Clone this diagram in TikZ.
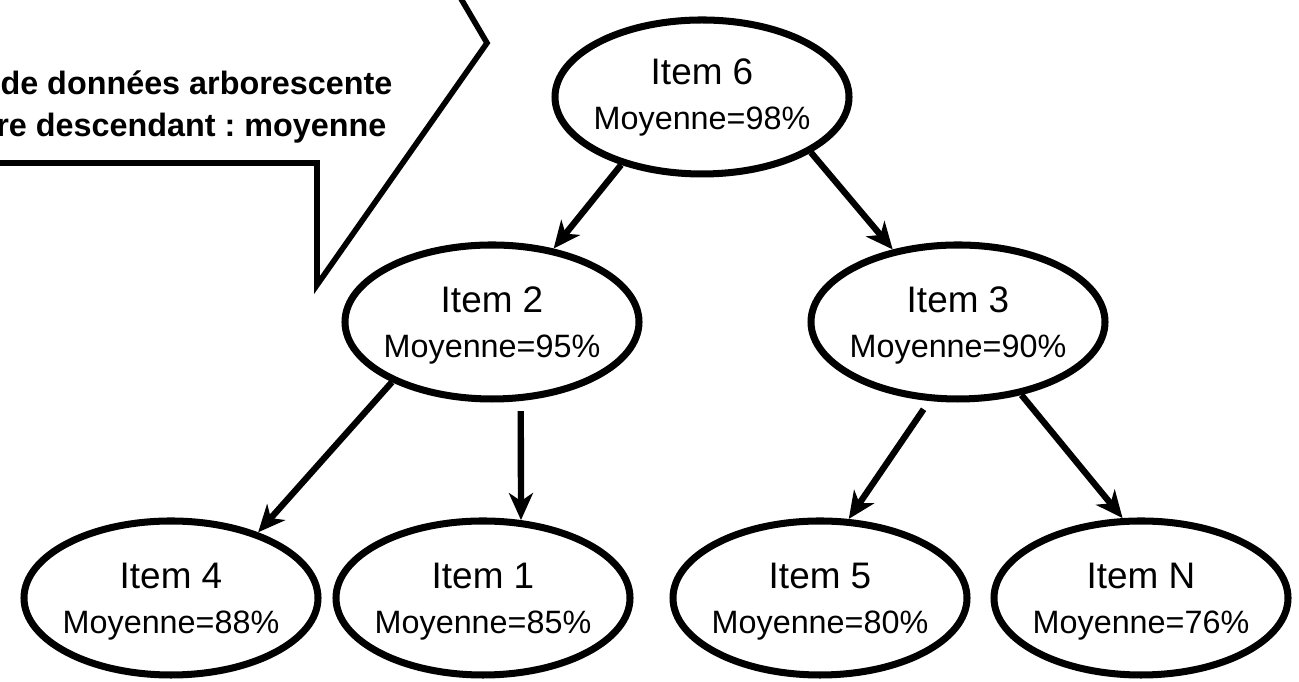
\documentclass[tikz,border=0pt]{standalone}
\usepackage{fontspec}
\setmainfont{Liberation Sans}
\usepackage{tikz}
\usetikzlibrary{shapes.geometric, arrows.meta}
\tikzstyle{item}=[ellipse, draw, line width=2pt, minimum width=29.4mm, minimum height=15.4mm, inner xsep=-2mm, inner ysep=0pt, align=center, font=\fontsize{10.5}{12.8}\selectfont]
\tikzstyle{lowtext}=[text depth=-2pt]
\tikzstyle{link}=[line width=1.8pt, -{Stealth[length=2.7mm,width=2.4mm,inset=0.8mm]}]
\tikzstyle{note}=[anchor=base east, inner sep=0pt, font=\frenchspacing\bfseries\fontsize{9.2}{11}\selectfont]
\newcommand{\moy}[1]{{\fontsize{9.2}{12.8}\selectfont Moyenne=#1\%}}

\begin{document}
\begin{tikzpicture}

		\useasboundingbox (0,0) rectangle (12.99,6.82);
		\fill[white] (0,0) rectangle (12.99,6.82);

		%draw the callout
		\draw[line width=1.6pt, line join=miter] (4.50,7.02) -- (4.87,6.39) -- (3.17,3.97) -- (3.17,5.19) -- (-0.2,5.19);
		\node[note] (note1) at (3.93,5.87) {de données arborescente};
		\node[note] (note2) at (3.87,5.45) {re descendant : moyenne};

		%draw the tree
		\node[item] (item6) at (7.02,5.85) {Item 6\\\moy{98}};
		\node[item, lowtext] (item2) at (4.92,3.60) {Item 2\\\moy{95}};
		\node[item, lowtext] (item3) at (9.58,3.60) {Item 3\\\moy{90}};
		\node[item, lowtext] (item4) at (1.71,0.84) {Item 4\\\moy{88}};
		\node[item, lowtext] (item1) at (4.83,0.84) {Item 1\\\moy{85}};
		\node[item, lowtext] (item5) at (8.20,0.84) {Item 5\\\moy{80}};
		\node[item, lowtext] (itemN) at (11.41,0.84) {Item N\\\moy{76}};

		\draw[link] (item6.220) -- (item2.50);
		\draw[link] (item6.-27) -- (item3.132);
		\draw[link] (item2.211) -- (item4.37);
		\draw[link, shorten <=1mm] (item2.-70) -- (item1.64);
		\draw[link, shorten <=1mm] (item3.250) -- (item5.70);
		\draw[link] (item3.-49) -- (itemN.103);

	\end{tikzpicture}
\end{document}
